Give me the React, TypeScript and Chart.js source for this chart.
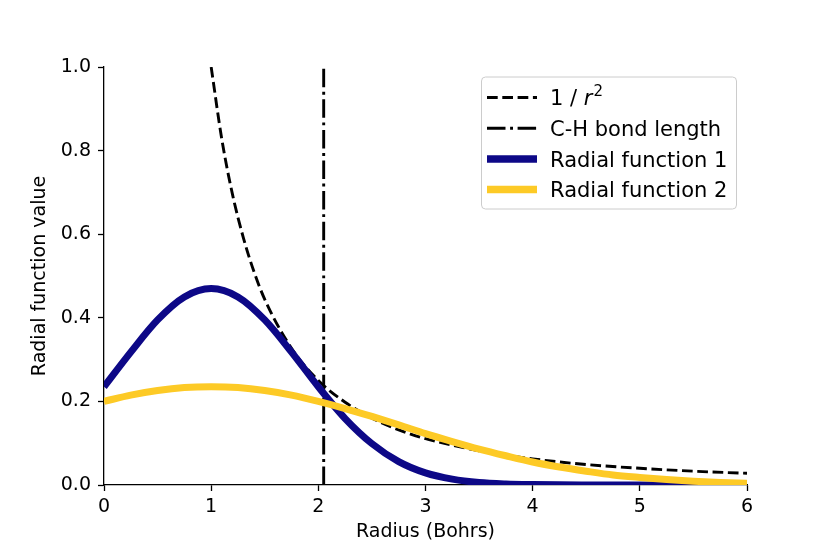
import React, { useEffect, useRef } from "react";
import { Chart, registerables } from "chart.js";

Chart.register(...registerables);

// ---- data ----
const radius = [0, 0.25, 0.5, 0.75, 1, 1.25, 1.5, 1.75, 2, 2.25, 2.5, 2.75, 3, 3.25, 3.5, 3.75, 4, 4.25, 4.5, 4.75, 5, 5.25, 5.5, 5.75, 6];
const radial1 = [0.235, 0.318, 0.395, 0.45, 0.47, 0.45, 0.395, 0.318, 0.235, 0.159, 0.099, 0.056, 0.029, 0.014, 0.006, 0.0025, 0.001, 0.0003, 0.0001, 0, 0, 0, 0, 0, 0];
const radial2 = [0.2, 0.215, 0.226, 0.233, 0.235, 0.233, 0.226, 0.215, 0.2, 0.183, 0.164, 0.144, 0.123, 0.104, 0.086, 0.07, 0.055, 0.043, 0.033, 0.024, 0.018, 0.013, 0.009, 0.006, 0.004];
const invRadius = [1, 1.1, 1.2, 1.3, 1.4, 1.5, 1.75, 2, 2.25, 2.5, 2.75, 3, 3.5, 4, 4.5, 5, 5.5, 6];
const invSquare = [1, 0.826, 0.694, 0.592, 0.51, 0.444, 0.327, 0.25, 0.198, 0.16, 0.132, 0.111, 0.082, 0.0625, 0.049, 0.04, 0.033, 0.028];
const bondLength = 2.05;
const bondY = [0, 1];
const xTicks = [0, 1, 2, 3, 4, 5, 6];
const yTicks = [0, 0.2, 0.4, 0.6, 0.8, 1.0];
const legendLabels = ["1 / r2", "C-H bond length", "Radial function 1", "Radial function 2"];
const xTitle = "Radius (Bohrs)";
const yTitle = "Radial function value";

const FONT = "'DejaVu Sans', sans-serif";
const BLUE = "#0d0887";
const YELLOW = "#fdca26";
const LW = 2.9;
const DASHED = [10.7, 4.6];
const DASHDOT = [18.5, 4.6, 2.9, 4.6];
const THICK = 7;

const legendPlugin = {
  id: "customLegend",
  afterDraw(chart: any) {
    const ctx = chart.ctx as CanvasRenderingContext2D;
    ctx.save();
    const bx = 481.5, by = 77, bw = 255, bh = 132;
    ctx.beginPath();
    (ctx as any).roundRect(bx, by, bw, bh, 4);
    ctx.fillStyle = "rgba(255,255,255,0.8)";
    ctx.fill();
    ctx.strokeStyle = "#cccccc";
    ctx.lineWidth = 1;
    ctx.stroke();
    const rows = [97.5, 128.2, 158.9, 189.6];
    const x0 = 487, x1 = 537, tx = 550;
    const styles = [
      { color: "#000", width: LW, dash: DASHED },
      { color: "#000", width: LW, dash: DASHDOT },
      { color: BLUE, width: THICK + 0.5, dash: [] as number[] },
      { color: YELLOW, width: THICK + 0.5, dash: [] as number[] },
    ];
    const fs = 21;
    rows.forEach((y, i) => {
      const s = styles[i];
      ctx.beginPath();
      ctx.setLineDash(s.dash);
      ctx.strokeStyle = s.color;
      ctx.lineWidth = s.width;
      ctx.lineCap = "butt";
      ctx.moveTo(x0, y);
      ctx.lineTo(x1, y);
      ctx.stroke();
      ctx.setLineDash([]);
      ctx.fillStyle = "#000";
      ctx.textBaseline = "alphabetic";
      ctx.textAlign = "left";
      const base = y + 0.365 * fs;
      if (i === 0) {
        ctx.font = `${fs}px ${FONT}`;
        const p1 = "1 / ";
        ctx.fillText(p1, tx, base);
        let cx = tx + ctx.measureText(p1).width;
        ctx.font = `oblique ${fs}px ${FONT}`;
        ctx.fillText("r", cx, base);
        cx += ctx.measureText("r").width + 1;
        ctx.font = `${Math.round(fs * 0.7)}px ${FONT}`;
        ctx.fillText("2", cx, base - fs * 0.42);
      } else {
        ctx.font = `${fs}px ${FONT}`;
        ctx.fillText(legendLabels[i], tx, base);
      }
    });
    ctx.restore();
  },
};

export default function App() {
  const ref = useRef<HTMLCanvasElement>(null);
  useEffect(() => {
    if (!ref.current) return;
    const axisCommon = {
      grid: {
        display: true,
        drawOnChartArea: false,
        drawTicks: true,
        tickLength: 6,
        tickWidth: 1.3,
        tickColor: "#000",
      },
      border: { display: true, color: "#000", width: 1.3 },
    };
    const chart = new Chart(ref.current, {
      type: "line",
      data: {
        datasets: [
          {
            label: legendLabels[0],
            data: invRadius.map((r, i) => ({ x: r, y: invSquare[i] })),
            borderColor: "#000",
            borderWidth: LW,
            borderDash: DASHED,
            pointRadius: 0,
            cubicInterpolationMode: "monotone",
            clip: 0,
            order: 4,
          },
          {
            label: legendLabels[1],
            data: bondY.map((y) => ({ x: bondLength, y })),
            borderColor: "#000",
            borderWidth: LW,
            borderDash: DASHDOT,
            pointRadius: 0,
            clip: 0,
            order: 3,
          },
          {
            label: legendLabels[2],
            data: radius.map((r, i) => ({ x: r, y: radial1[i] })),
            borderColor: BLUE,
            borderWidth: THICK,
            pointRadius: 0,
            cubicInterpolationMode: "monotone",
            clip: 0,
            order: 2,
          },
          {
            label: legendLabels[3],
            data: radius.map((r, i) => ({ x: r, y: radial2[i] })),
            borderColor: YELLOW,
            borderWidth: THICK,
            pointRadius: 0,
            cubicInterpolationMode: "monotone",
            clip: 0,
            order: 1,
          },
        ],
      } as any,
      options: {
        responsive: false,
        animation: false,
        devicePixelRatio: 1,
        layout: { padding: { left: 0, top: 67, right: 83, bottom: 0 } },
        plugins: { legend: { display: false }, tooltip: { enabled: false } },
        scales: {
          x: {
            type: "linear",
            min: 0,
            max: 6,
            afterBuildTicks: (s: any) => {
              s.ticks = xTicks.map((v) => ({ value: v }));
            },
            afterFit: (s: any) => {
              s.height = 69;
            },
            ...axisCommon,
            ticks: {
              color: "#000",
              font: { family: FONT, size: 19 },
              padding: 5,
              maxRotation: 0,
              autoSkip: false,
              callback: (v: any) => String(v),
            },
            title: {
              display: true,
              text: xTitle,
              color: "#000",
              font: { family: FONT, size: 19 },
              padding: { top: 0, bottom: 11 },
            },
          },
          y: {
            type: "linear",
            min: 0,
            max: 1,
            afterBuildTicks: (s: any) => {
              s.ticks = yTicks.map((v) => ({ value: v }));
            },
            afterFit: (s: any) => {
              s.width = 104;
            },
            ...axisCommon,
            ticks: {
              color: "#000",
              font: { family: FONT, size: 19 },
              padding: 7,
              autoSkip: false,
              callback: (v: any) => Number(v).toFixed(1),
            },
            title: {
              display: true,
              text: yTitle,
              color: "#000",
              font: { family: FONT, size: 19 },
              padding: { top: 29, bottom: 0 },
            },
          },
        },
      } as any,
      plugins: [legendPlugin],
    });
    return () => chart.destroy();
  }, []);
  return (
    <div style={{ position: "absolute", left: 0, top: 0, width: 830, height: 554, background: "#fff" }}>
      <canvas ref={ref} width={830} height={554} style={{ display: "block" }} />
    </div>
  );
}
